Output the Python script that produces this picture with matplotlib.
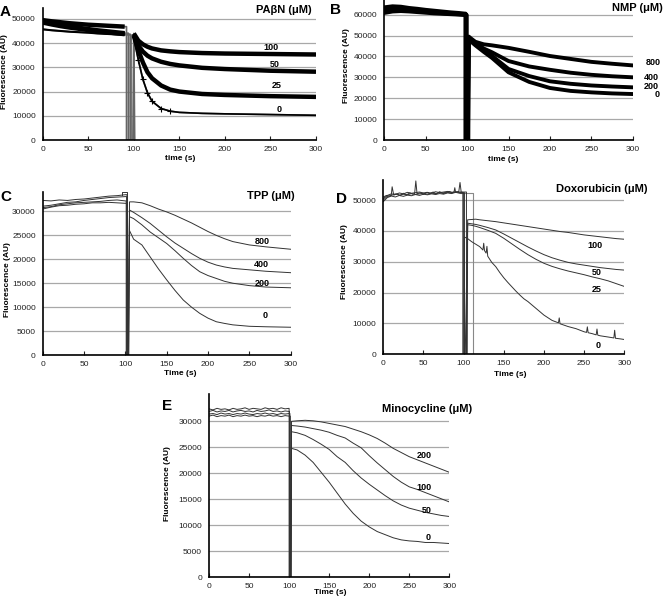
import matplotlib
matplotlib.use("Agg")
import matplotlib.pyplot as plt

plt.rcParams['font.family'] = ['Liberation Sans', 'DejaVu Sans']

W, H = 664, 598

# ---------------- Panel A: PAbN ----------------
a_labels = ['100', '50', '25', '0']
a_t_pre = [0, 10, 20, 30, 40, 50, 60, 70, 80, 90]
a_pre = [
    [49500, 49000, 48600, 48200, 47900, 47600, 47400, 47200, 47000, 46800],
    [49000, 48200, 47500, 46900, 46300, 45800, 45300, 44900, 44500, 44100],
    [48500, 47700, 47000, 46400, 45900, 45400, 44900, 44500, 44100, 43700],
    [45700, 45300, 45000, 44700, 44500, 44300, 44000, 43800, 43600, 43400],
]
a_drop = [(92, 99), (94, 100), (96, 101), (97, 100)]
a_t_post = [100, 105, 110, 115, 120, 130, 140, 150, 175, 200, 250, 300]
a_post = [
    [44000, 41000, 39500, 38500, 37800, 37000, 36600, 36300, 35900, 35700, 35500, 35300],
    [43500, 39000, 36500, 34800, 33700, 32300, 31400, 30800, 29800, 29300, 28600, 28200],
    [43000, 37000, 32000, 28000, 25500, 22500, 20800, 20000, 19000, 18600, 18100, 17800],
    [42000, 33000, 25000, 19500, 16000, 13000, 11900, 11400, 11000, 10800, 10500, 10200],
]
a_label_pos = [(251, 38300), (255, 31000), (257, 22300), (260, 12400)]
a_yticks = [0, 10000, 20000, 30000, 40000, 50000]

# ---------------- Panel B: NMP ----------------
b_labels = ['800', '400', '200', '0']
b_t_pre = [0, 10, 20, 30, 40, 50, 60, 70, 80, 90, 97]
b_pre = [
    [63500, 64000, 63800, 63200, 62800, 62300, 61900, 61500, 61100, 60800, 60500],
    [62500, 63200, 63000, 62600, 62200, 61800, 61400, 61000, 60700, 60400, 60200],
    [61500, 62300, 62400, 62000, 61700, 61300, 61000, 60700, 60400, 60200, 60000],
    [60800, 61500, 61700, 61500, 61200, 60900, 60600, 60400, 60200, 60000, 59800],
]
b_drop = [(98, 100), (98.5, 100.5), (99, 101), (99.5, 101.5)]
b_t_post = [102, 105, 110, 120, 130, 150, 175, 200, 225, 250, 275, 300]
b_post = [
    [49500, 48500, 47000, 45800, 45300, 44100, 42200, 40200, 38800, 37400, 36500, 35700],
    [49000, 48000, 46500, 43800, 42000, 37800, 35200, 33600, 32200, 31200, 30500, 30000],
    [48500, 47500, 45800, 43000, 40300, 34000, 30600, 28100, 26900, 26100, 25600, 25200],
    [48000, 47000, 45300, 42200, 39300, 32400, 27800, 24900, 23500, 22800, 22300, 22000],
]
b_label_pos = [(325, 36900), (323, 30000), (323, 25400), (330, 21650)]
b_yticks = [0, 10000, 20000, 30000, 40000, 50000, 60000]

# ---------------- Panel C: TPP ----------------
c_labels = ['800', '400', '200', '0']
c_t_pre = [0, 10, 20, 30, 40, 50, 60, 70, 80, 90, 100]
c_pre = [
    [32300, 32200, 32400, 32300, 32500, 32600, 32800, 33000, 33200, 33300, 33500],
    [31100, 31300, 31600, 31900, 32000, 32300, 32500, 32700, 32900, 33000, 33100],
    [30800, 31000, 31400, 31600, 31800, 31900, 32000, 32100, 32300, 32400, 32200],
    [30500, 30900, 31200, 31300, 31500, 31600, 31800, 31800, 31900, 31800, 31700],
]
c_drop = [(102, 104), (101.5, 103.5), (101, 103), (102.5, 104)]
c_t_post = [105, 110, 120, 130, 140, 150, 160, 170, 180, 190, 200, 210, 220, 230, 250, 270, 300]
c_post = [
    [32000, 32000, 31800, 31200, 30500, 29900, 29200, 28400, 27600, 26700, 25800, 25000, 24300, 23700, 23000, 22600, 22100],
    [30300, 29800, 28700, 27500, 26100, 24700, 23400, 22300, 21200, 20200, 19400, 18800, 18400, 18100, 17800, 17500, 17200],
    [28900, 28500, 27200, 25700, 24500, 23300, 21800, 20200, 18700, 17400, 16600, 16000, 15400, 15000, 14500, 14200, 14050],
    [26000, 24200, 23000, 20500, 18000, 15700, 13500, 11500, 10000, 8700, 7700, 6950, 6600, 6300, 6000, 5900, 5800],
]
c_box_t = [96, 96, 102, 102]
c_box_v = [33500, 34000, 34000, 0]
c_label_pos = [(265, 23650), (265, 19000), (265, 15000), (269, 8350)]
c_yticks = [0, 5000, 10000, 15000, 20000, 25000, 30000]

# ---------------- Panel D: Doxorubicin ----------------
d_labels = ['100', '50', '25', '0']
d_t_pre = [0, 5, 10, 15, 20, 25, 30, 35, 40, 45, 50, 55, 60, 65, 70, 75, 80, 85, 90, 95]
d_pre = [
    [50500, 51500, 52000, 51800, 52300, 52000, 52500, 52200, 52400, 52600, 52300, 52500, 52200, 52700, 52400, 52600, 52800, 52500, 52700, 52600],
    [50000, 51200, 51500, 52000, 51600, 51900, 51700, 52100, 51800, 52000, 52200, 51900, 52300, 52000, 52400, 52100, 52500, 52300, 52600, 52400],
    [49500, 50800, 51300, 51000, 51500, 51200, 51600, 51400, 51800, 51500, 51900, 51700, 52000, 51800, 52100, 51900, 52300, 52100, 52500, 52200],
]
d0_t_pre = [0, 4, 8, 10, 11, 13, 17, 21, 25, 29, 33, 37, 39, 40.5, 42, 46, 50, 54, 58, 62, 66, 70, 74, 78, 82, 86, 88, 89, 90, 94, 95.5, 97]
d0_pre = [51000, 51500, 51200, 51800, 54300, 51600, 52000, 51400, 52200, 51700, 52300, 51900, 52100, 56200, 52000, 52400, 51800, 52500, 52100, 52600, 52000, 52700, 52300, 52500, 52800, 52400, 52600, 54000, 52500, 52800, 55700, 52500]
d_drop = [(103.5, 104.5), (101, 103), (100, 102), (99, 101)]
d_t_post = [105, 110, 115, 120, 130, 140, 150, 160, 170, 180, 190, 200, 210, 220, 230, 240, 250, 260, 270, 280, 290, 300]
d_post = [
    [43600, 43700, 43800, 43600, 43300, 43000, 42600, 42200, 41800, 41400, 41000, 40600, 40200, 39800, 39500, 39100, 38700, 38400, 38100, 37800, 37500, 37300],
    [42500, 42300, 42100, 41800, 41100, 40300, 39000, 37600, 36200, 34800, 33500, 32300, 31300, 30500, 29800, 29300, 28900, 28500, 28100, 27800, 27500, 27300],
    [42000, 41800, 41500, 41100, 40200, 39200, 37600, 35800, 34000, 32300, 30800, 29500, 28500, 27700, 27000, 26400, 25800, 25100, 24500, 23800, 22900, 22000],
]
d0_t_post = [101, 105, 110, 115, 120, 124, 125, 126, 128, 129, 130, 135, 140, 145, 150, 155, 160, 165, 170, 175, 180, 185, 190, 200, 210, 218, 219, 220, 230, 240, 250, 253, 254, 255, 260, 265, 266, 267, 270, 280, 287, 288, 289, 295, 300]
d0_post = [38000, 37500, 36500, 35700, 34900, 33800, 36000, 33600, 32800, 35000, 31800, 29800, 28400, 26500, 24800, 23300, 21900, 20500, 19200, 18000, 17100, 16000, 14900, 12700, 11000, 10200, 11800, 9900, 9000, 8300, 7300, 7100, 8900, 7000, 6700, 6300, 8200, 6200, 6000, 5600, 5300, 7800, 5200, 5000, 4800]
d_box_t = [95, 95, 112, 112, 113]
d_box_v = [52600, 52300, 52300, 0, 0]
d_label_pos = [(263.5, 35400), (265.6, 26400), (265.6, 21060), (267.6, 2700)]
d_yticks = [0, 10000, 20000, 30000, 40000, 50000]

# ---------------- Panel E: Minocycline ----------------
e_labels = ['200', '100', '50', '0']
e_t_pre = [0, 5, 10, 15, 20, 25, 30, 35, 40, 45, 50, 55, 60, 65, 70, 75, 80, 85, 90, 95, 100]
e_pre = [
    [32400, 32200, 32500, 32300, 32400, 32200, 32500, 32300, 32400, 32600, 32300, 32500, 32400, 32300, 32600, 32400, 32500, 32300, 32600, 32400, 32500],
    [31900, 32100, 31800, 32000, 31900, 32100, 31800, 32000, 32100, 31900, 32000, 31800, 32100, 31900, 32000, 32200, 31900, 32000, 31800, 32000, 31900],
    [31400, 31500, 31300, 31600, 31400, 31500, 31300, 31500, 31400, 31600, 31400, 31300, 31500, 31400, 31600, 31400, 31500, 31300, 31500, 31400, 31500],
    [31000, 31200, 30900, 31100, 31000, 31200, 30900, 31100, 31000, 31200, 31000, 31100, 30900, 31100, 31000, 31200, 31000, 31100, 30900, 31100, 31000],
]
e_drop = [(100, 101.5), (100.5, 102), (101, 102.5), (101.5, 102.5)]
e_t_post = [103, 110, 120, 130, 140, 150, 160, 170, 180, 190, 200, 210, 220, 230, 240, 250, 260, 270, 280, 290, 300]
e_post = [
    [30000, 30100, 30200, 30100, 29900, 29600, 29300, 29000, 28500, 28000, 27400, 26700, 25800, 24800, 24000, 23200, 22600, 22000, 21400, 20800, 20200],
    [29200, 29100, 28900, 28600, 28300, 27900, 27300, 26800, 25800, 24900, 23400, 22000, 20700, 19400, 18300, 17400, 16900, 16300, 15700, 15100, 14500],
    [28000, 27800, 27300, 26500, 25600, 24600, 23200, 22100, 20500, 19100, 17900, 16800, 15700, 14700, 13900, 13300, 12900, 12500, 12200, 11900, 11700],
    [24800, 24500, 23500, 22100, 20200, 18300, 16200, 14100, 12300, 10800, 9700, 8800, 8200, 7600, 7200, 7000, 6900, 6700, 6700, 6600, 6500],
]
e_label_pos = [(268.8, 23500), (268.8, 17230), (271.8, 12940), (273.8, 7600)]
e_yticks = [0, 5000, 10000, 15000, 20000, 25000, 30000]

x_ticks = [0, 50, 100, 150, 200, 250, 300]


def build(t_pre, pre, drop, t_post, post):
    t = list(t_pre) + [drop[0], drop[0], drop[1]] + list(t_post)
    v = list(pre) + [pre[-1], 0, 0] + list(post)
    return t, v


def fx(x):
    return x / W


def fy(y):
    return 1 - y / H


def make_axes(l, r, t, b, ymax, yticks):
    ax = fig.add_axes([fx(l), fy(b), fx(r) - fx(l), fy(t) - fy(b)])
    ax.set_xlim(0, 300)
    ax.set_ylim(0, ymax)
    ax.set_xticks(x_ticks)
    ax.set_yticks(yticks)
    ax.spines['top'].set_visible(False)
    ax.spines['right'].set_visible(False)
    ax.spines['left'].set_linewidth(1.2)
    ax.spines['bottom'].set_linewidth(1.2)
    ax.yaxis.grid(True, color='#a8a8a8', lw=0.9)
    ax.set_axisbelow(True)
    ax.tick_params(axis='x', direction='in', length=3, width=0.8, labelsize=6, pad=4, colors='#222222')
    ax.tick_params(axis='y', length=0, labelsize=6, pad=5, colors='#222222')
    return ax


def labels(ax, names, pos):
    for name, (x, y) in zip(names, pos):
        ax.text(x, y, name, fontsize=6.5, fontweight='bold', ha='center', va='center', clip_on=False)


def figtext(x, y, s, **kw):
    fig.text(fx(x), fy(y), s, **kw)


fig = plt.figure(figsize=(W / 100, H / 100), dpi=100)

# Panel A
axA = make_axes(42.7, 316, 8, 140, 54500, a_yticks)
for pre, drop, post in zip(a_pre, a_drop, a_post):
    t, v = build(a_t_pre, pre, drop, a_t_post, post)
    axA.plot(t, v, color='#666666', lw=1.2)
for i, (pre, post) in enumerate(zip(a_pre, a_post)):
    w = 1.2 if i == 3 else 3.2
    axA.plot(a_t_pre, pre, color='black', lw=w if i < 3 else 1.5, solid_capstyle='butt')
    axA.plot(a_t_post, post, color='black', lw=w, solid_capstyle='butt')
axA.plot(a_t_post[1:7], a_post[3][1:7], ls='none', marker='+', ms=5, color='black', mew=0.8)
labels(axA, a_labels, a_label_pos)

# Panel B
axB = make_axes(384.3, 632.7, 0, 140, 67000, b_yticks)
for pre, drop, post in zip(b_pre, b_drop, b_post):
    t, v = build(b_t_pre, pre, drop, b_t_post, post)
    axB.plot(t, v, color='black', lw=2.8)
labels(axB, b_labels, b_label_pos)

# Panel C
axC = make_axes(42.7, 290.7, 192.3, 355, 34000, c_yticks)
for pre, drop, post in zip(c_pre, c_drop, c_post):
    t, v = build(c_t_pre, pre, drop, c_t_post, post)
    axC.plot(t, v, color='#333333', lw=0.7)
axC.plot(c_box_t, c_box_v, color='#333333', lw=0.7)
labels(axC, c_labels, c_label_pos)

# Panel D
axD = make_axes(383.3, 624.3, 180, 354.3, 56500, d_yticks)
axD.plot(d_box_t, d_box_v, color='#888888', lw=0.8)
for i, (pre, post) in enumerate(zip(d_pre, d_post)):
    t, v = build(d_t_pre, pre, d_drop[i], d_t_post, post)
    axD.plot(t, v, color='#333333', lw=0.7)
t, v = build(d0_t_pre, d0_pre, d_drop[3], d0_t_post, d0_post)
axD.plot(t, v, color='#333333', lw=0.7)
labels(axD, d_labels, d_label_pos)

# Panel E
axE = make_axes(209, 449.3, 394.3, 577.3, 35200, e_yticks)
for pre, drop, post in zip(e_pre, e_drop, e_post):
    t, v = build(e_t_pre, pre, drop, e_t_post, post)
    axE.plot(t, v, color='#333333', lw=0.7)
labels(axE, e_labels, e_label_pos)

# titles
tkw = dict(fontsize=8, fontweight='bold', ha='right', va='center')
figtext(311.7, 10, 'PA\u03b2N (\u03bcM)', **tkw)
figtext(663, 8.3, 'NMP (\u03bcM)', **tkw)
figtext(295, 196, 'TPP (\u03bcM)', **tkw)
figtext(648, 189, 'Doxorubicin (\u03bcM)', **tkw)
figtext(471.7, 409.3, 'Minocycline (\u03bcM)', **tkw)

# panel letters
lkw = dict(fontsize=11, fontweight='bold', ha='left', va='center')
figtext(0, 11.5, 'A', **lkw)
figtext(330, 10, 'B', **lkw)
figtext(0, 196.5, 'C', **lkw)
figtext(336, 199, 'D', **lkw)
figtext(162, 406.5, 'E', **lkw)

# axis labels
ykw = dict(fontsize=6, fontweight='bold', rotation=90, ha='center', va='center')
xkw = dict(fontsize=6, fontweight='bold', ha='center', va='center')
figtext(5, 72, 'Fluorescence (AU)', **ykw)
figtext(180, 158.3, 'time (s)', **xkw)
figtext(346.7, 66, 'Fluorescence (AU)', **ykw)
figtext(503.3, 159.3, 'time (s)', **xkw)
figtext(7.3, 280, 'Fluorescence (AU)', **ykw)
figtext(180, 373.3, 'Time (s)', **xkw)
figtext(344.3, 262, 'Fluorescence (AU)', **ykw)
figtext(510, 374, 'Time (s)', **xkw)
figtext(167.3, 484, 'Fluorescence (AU)', **ykw)
figtext(330, 592.3, 'Time (s)', **xkw)

fig.savefig('out.png', dpi=100)
